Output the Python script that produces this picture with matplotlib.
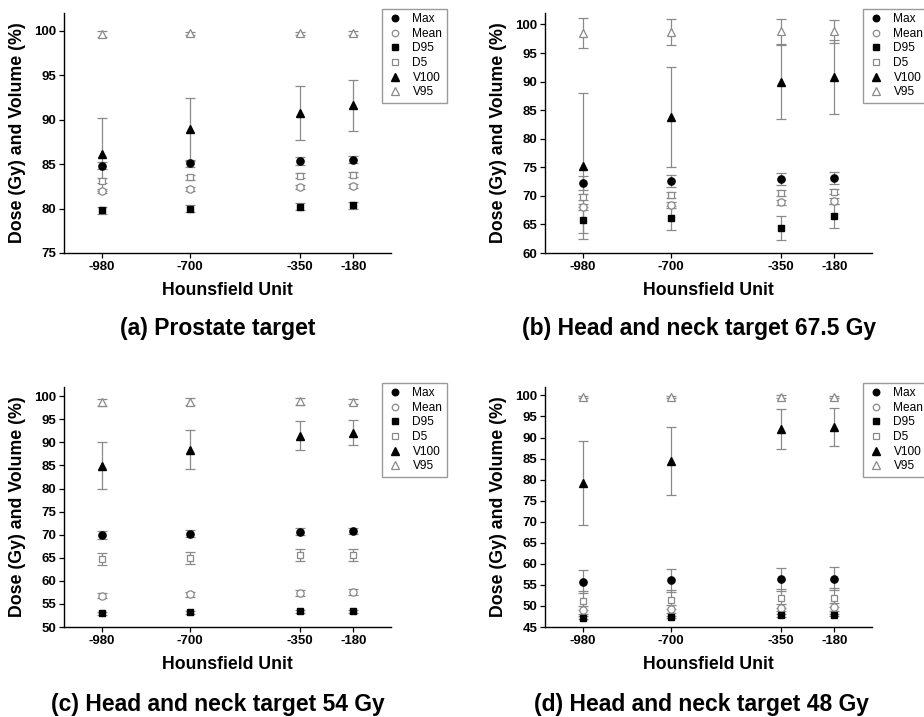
import matplotlib
matplotlib.use("Agg")
import matplotlib.pyplot as plt
import numpy as np

plt.rcParams['font.family'] = ['Liberation Sans', 'DejaVu Sans']

# Hounsfield unit positions
hu = [-980, -700, -350, -180]

# (a) Prostate target
a_max = [84.8, 85.1, 85.35, 85.5]
a_mean = [81.95, 82.2, 82.4, 82.55]
a_d95 = [79.8, 80.0, 80.2, 80.35]
a_d5 = [83.15, 83.5, 83.7, 83.8]
a_v100 = [86.1, 88.9, 90.75, 91.6]
a_v95 = [99.65, 99.7, 99.7, 99.75]
a_max_err = [0.4, 0.4, 0.4, 0.4]
a_mean_err = [0.2, 0.2, 0.2, 0.2]
a_d95_err = [0.4, 0.4, 0.4, 0.4]
a_d5_err = [0.3, 0.3, 0.3, 0.3]
a_v100_err = [4.1, 3.5, 3.05, 2.9]
a_v95_err = [0.3, 0.2, 0.2, 0.2]

# (b) Head and neck target 67.5 Gy
b_max = [72.3, 72.6, 73.0, 73.15]
b_mean = [68.1, 68.45, 68.85, 69.05]
b_d95 = [65.75, 66.1, 64.4, 66.5]
b_d5 = [69.8, 70.15, 70.55, 70.75]
b_v100 = [75.2, 83.8, 89.9, 90.8]
b_v95 = [98.5, 98.7, 98.8, 98.8]
b_max_err = [1.2, 1.1, 1.05, 1.0]
b_mean_err = [0.5, 0.5, 0.5, 0.5]
b_d95_err = [2.3, 2.1, 2.05, 2.1]
b_d5_err = [0.5, 0.5, 0.5, 0.5]
b_v100_err = [12.8, 8.7, 6.5, 6.4]
b_v95_err = [2.6, 2.3, 2.2, 2.0]

# (c) Head and neck target 54 Gy
c_max = [69.9, 70.25, 70.65, 70.8]
c_mean = [56.8, 57.05, 57.4, 57.55]
c_d95 = [52.95, 53.15, 53.4, 53.4]
c_d5 = [64.7, 65.0, 65.5, 65.65]
c_v100 = [84.95, 88.4, 91.45, 92.05]
c_v95 = [98.7, 98.85, 98.9, 98.85]
c_max_err = [0.8, 0.8, 0.7, 0.7]
c_mean_err = [0.6, 0.6, 0.6, 0.6]
c_d95_err = [0.3, 0.3, 0.3, 0.3]
c_d5_err = [1.3, 1.3, 1.3, 1.3]
c_v100_err = [5.15, 4.25, 3.2, 2.7]
c_v95_err = [0.8, 0.8, 0.7, 0.6]

# (d) Head and neck target 48 Gy
d_max = [55.8, 56.05, 56.3, 56.45]
d_mean = [49.0, 49.25, 49.6, 49.75]
d_d95 = [47.2, 47.4, 47.75, 47.8]
d_d5 = [51.25, 51.5, 51.8, 51.95]
d_v100 = [79.2, 84.5, 92.0, 92.5]
d_v95 = [99.6, 99.65, 99.7, 99.6]
d_max_err = [2.8, 2.8, 2.7, 2.7]
d_mean_err = [0.9, 0.9, 0.9, 0.9]
d_d95_err = [0.3, 0.3, 0.3, 0.3]
d_d5_err = [2.2, 2.2, 2.3, 2.3]
d_v100_err = [9.9, 8.1, 4.7, 4.6]
d_v95_err = [0.3, 0.3, 0.3, 0.3]

titles = ['(a) Prostate target', '(b) Head and neck target 67.5 Gy',
          '(c) Head and neck target 54 Gy', '(d) Head and neck target 48 Gy']
y_mins = [75, 60, 50, 45]

labels = ['Max', 'Mean', 'D95', 'D5', 'V100', 'V95']
markers = ['o', 'o', 's', 's', '^', '^']
filled = [True, False, True, False, True, False]
msizes = [5.2, 5.2, 4.6, 4.6, 5.8, 5.8]

panels = [
    ([a_max, a_mean, a_d95, a_d5, a_v100, a_v95],
     [a_max_err, a_mean_err, a_d95_err, a_d5_err, a_v100_err, a_v95_err]),
    ([b_max, b_mean, b_d95, b_d5, b_v100, b_v95],
     [b_max_err, b_mean_err, b_d95_err, b_d5_err, b_v100_err, b_v95_err]),
    ([c_max, c_mean, c_d95, c_d5, c_v100, c_v95],
     [c_max_err, c_mean_err, c_d95_err, c_d5_err, c_v100_err, c_v95_err]),
    ([d_max, d_mean, d_d95, d_d5, d_v100, d_v95],
     [d_max_err, d_mean_err, d_d95_err, d_d5_err, d_v100_err, d_v95_err]),
]

W, H = 924, 717
fig = plt.figure(figsize=(W / 100, H / 100), dpi=100)

# pixel layout of each panel: axes left, axes top
axes_px = [(64, 13), (545, 13), (64, 387), (545, 387)]
ax_w, ax_h = 327, 240
title_px = [(218, 328), (699, 328), (218, 704), (702, 704)]
grey = '#8a8a8a'

for i, (vals, errs) in enumerate(panels):
    left, top = axes_px[i]
    ax = fig.add_axes([left / W, 1 - (top + ax_h) / H, ax_w / W, ax_h / H])

    for k in range(6):
        ax.errorbar(hu, vals[k], yerr=errs[k], fmt='none', ecolor=grey,
                    elinewidth=0.9, capsize=3.5, capthick=0.9, zorder=2)
    for k in range(6):
        if filled[k]:
            ax.plot(hu, vals[k], linestyle='none', marker=markers[k], ms=msizes[k],
                    mfc='black', mec='black', label=labels[k], zorder=3)
        else:
            ax.plot(hu, vals[k], linestyle='none', marker=markers[k], ms=msizes[k],
                    mfc='white', mec=grey, mew=0.9, label=labels[k], zorder=3)

    ax.set_xlim(-1100, -60)
    ax.set_ylim(y_mins[i], 102)
    ax.set_xticks(hu)
    ax.set_xticklabels([str(h) for h in hu])
    ax.set_yticks(np.arange(y_mins[i], 101, 5))
    for s in ['top', 'right']:
        ax.spines[s].set_visible(False)
    for s in ['left', 'bottom']:
        ax.spines[s].set_linewidth(1.0)
    ax.tick_params(axis='both', direction='out', length=3.5, width=0.9, pad=2)
    for t in ax.get_xticklabels():
        t.set_fontsize(9.5)
        t.set_fontweight('bold')
    for t in ax.get_yticklabels():
        t.set_fontsize(9.5)
        t.set_fontweight('bold')
    ax.set_xlabel('Hounsfield Unit', fontsize=12.7, fontweight='bold', labelpad=7)
    ax.set_ylabel('Dose (Gy) and Volume (%)', fontsize=12.8, fontweight='bold', labelpad=6)

    leg_x = left + 318
    leg = ax.legend(loc='upper left', bbox_to_anchor=(leg_x / W, 1 - (top - 4) / H),
                    bbox_transform=fig.transFigure, fontsize=8.6, frameon=True,
                    fancybox=False, edgecolor='#9a9a9a', framealpha=1,
                    borderpad=0.35, labelspacing=0.22, handlelength=1.5,
                    handletextpad=0.7, borderaxespad=0, numpoints=1, markerscale=0.9)
    leg.get_frame().set_linewidth(1.0)

    tx, ty = title_px[i]
    fig.text(tx / W, 1 - ty / H, titles[i], ha='center', va='center',
             fontsize=16.5, fontweight='bold')

fig.savefig('out.png', dpi=100)
